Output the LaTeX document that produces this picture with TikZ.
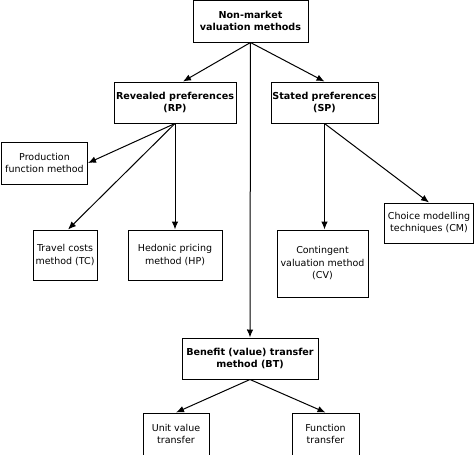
\documentclass[tikz,border=0pt]{standalone}
\usepackage{fontspec}
\setmainfont{DejaVu Sans}
\usetikzlibrary{arrows.meta}

\tikzset{
  box/.style={draw, line width=1pt, align=center, inner sep=0pt,
    font=\fontsize{9.5}{12.5}\selectfont},
  head/.style={box, font=\fontsize{9.6}{12.5}\selectfont\bfseries},
  arr/.style={line width=1pt, -{Latex[length=8pt,width=6.5pt]}}
}

\begin{document}
\begin{tikzpicture}[x=1pt,y=-1pt]
    \useasboundingbox (0,0) rectangle (474,455);

    % Livello superiore
    \node[head, minimum width=115pt, minimum height=42pt] (top) at (250.5,21) {Non-market\\valuation methods};

    % Preferenze
    \node[head, minimum width=122pt, minimum height=41pt] (rp) at (175,102.5) {Revealed preferences\\(RP)};
    \node[head, minimum width=107pt, minimum height=41pt] (sp) at (324.5,102.5) {Stated preferences\\(SP)};

    % Metodi RP
    \node[box, minimum width=86pt, minimum height=42pt] (prod) at (44.5,163) {Production\\function method};
    \node[box, minimum width=64pt, minimum height=50pt] (tc) at (65,255) {Travel costs\\method (TC)};
    \node[box, minimum width=94pt, minimum height=50pt] (hp) at (175,255) {Hedonic pricing\\method (HP)};

    % Metodi SP
    \node[box, minimum width=91pt, minimum height=67pt] (cv) at (322.5,263.5) {Contingent\\valuation method\\(CV)};
    \node[box, minimum width=89pt, minimum height=40pt] (cm) at (429,223) {Choice modelling\\techniques (CM)};

    % Trasferimento
    \node[head, minimum width=136pt, minimum height=41pt] (bt) at (250,358.5) {Benefit (value) transfer\\method (BT)};
    \node[box, minimum width=66pt, minimum height=42pt] (uv) at (176,434) {Unit value\\transfer};
    \node[box, minimum width=67pt, minimum height=42pt] (ft) at (325.5,434) {Function\\transfer};

    % Frecce
    \draw[arr] (top.south) -- ([xshift=8pt]rp.north);
    \draw[arr] (top.south) -- (sp.north);
    \draw[arr] (top.south) -- (bt.north);

    \draw[arr] (rp.south) -- (prod.east);
    \draw[arr] (rp.south) -- ([xshift=3pt]tc.north);
    \draw[arr] (rp.south) -- (hp.north);

    \draw[arr] (sp.south) -- (sp.south |- cv.north);
    \draw[arr] (sp.south) -- (cm.north);

    \draw[arr] (bt.south) -- (uv.north);
    \draw[arr] (bt.south) -- (ft.north);
\end{tikzpicture}
\end{document}
